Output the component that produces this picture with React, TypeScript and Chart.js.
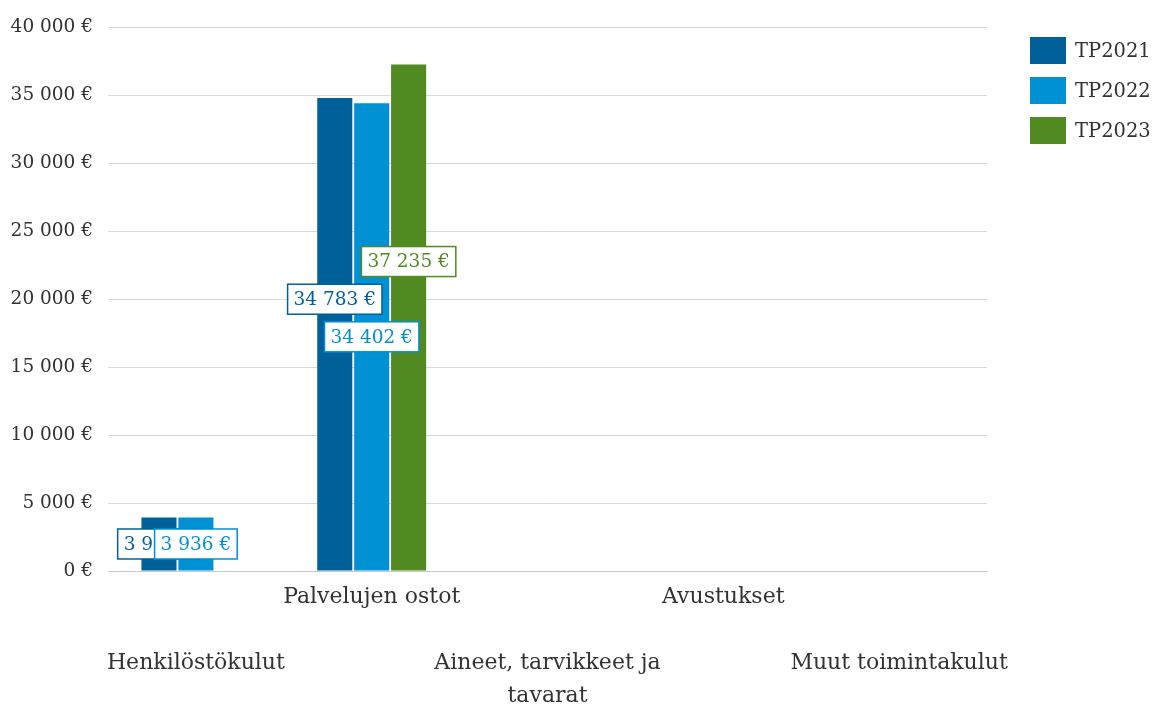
import React, { useEffect, useRef } from 'react';
import { Chart, registerables } from 'chart.js';

Chart.register(...registerables);

// ---- data ----
const categories = ['Henkilöstökulut', 'Palvelujen ostot', 'Aineet, tarvikkeet ja|tavarat', 'Avustukset', 'Muut toimintakulut'];
const seriesNames = ['TP2021', 'TP2022', 'TP2023'];
const tp2021 = [3936, 34783, 0, 0, 0];
const tp2022 = [3936, 34402, 0, 0, 0];
const tp2023 = [0, 37235, 0, 0, 0];
const yMin = 0;
const yMax = 40000;
const yStep = 5000;

// ---- style ----
const FONT = '"DejaVu Serif", "Liberation Serif", serif';
const COLORS = ['#00609a', '#0091d5', '#528a22'];
const TEXT = '#333333';

const fmt = (v: number) =>
  Math.round(v).toString().replace(/\B(?=(\d{3})+(?!\d))/g, ' ') + ' €';

const valueLabels = {
  id: 'valueLabels',
  afterDatasetsDraw(chart: any, _args: any, opts: any) {
    const ctx = chart.ctx;
    ctx.save();
    ctx.font = `${opts.size}px ${FONT}`;
    ctx.textAlign = 'center';
    ctx.textBaseline = 'middle';
    chart.data.datasets.forEach((ds: any, di: number) => {
      const meta = chart.getDatasetMeta(di);
      meta.data.forEach((el: any, i: number) => {
        const v = ds.data[i];
        if (!v) return;
        const text = fmt(v);
        const shift = (opts.shifts[i] && opts.shifts[i][di]) || 0;
        const cx = el.x;
        const cy = (el.y + el.base) / 2 + shift;
        const w = ctx.measureText(text).width + opts.padX * 2;
        const h = opts.h;
        ctx.fillStyle = '#ffffff';
        ctx.fillRect(cx - w / 2, cy - h / 2, w, h);
        ctx.strokeStyle = ds.backgroundColor;
        ctx.lineWidth = 1.5;
        ctx.strokeRect(cx - w / 2, cy - h / 2, w, h);
        ctx.fillStyle = ds.backgroundColor;
        ctx.fillText(text, cx, cy + 1);
      });
    });
    ctx.restore();
  },
};

const sideLegend = {
  id: 'sideLegend',
  afterDraw(chart: any, _args: any, opts: any) {
    const ctx = chart.ctx;
    ctx.save();
    ctx.font = `${opts.size}px ${FONT}`;
    ctx.textAlign = 'left';
    ctx.textBaseline = 'middle';
    chart.data.datasets.forEach((ds: any, i: number) => {
      const x = opts.x;
      const y = opts.y + i * opts.step;
      ctx.fillStyle = ds.backgroundColor;
      ctx.fillRect(x, y, opts.boxW, opts.boxH);
      ctx.fillStyle = TEXT;
      ctx.fillText(ds.label, x + opts.boxW + 9, y + opts.boxH / 2 + 1);
    });
    ctx.restore();
  },
};

export default function App() {
  const ref = useRef<HTMLCanvasElement | null>(null);

  useEffect(() => {
    document.body.style.margin = '0';
    if (!ref.current) return;
    const chart = new Chart(ref.current, {
      type: 'bar',
      data: {
        labels: categories,
        datasets: [tp2021, tp2022, tp2023].map((d, i) => ({
          label: seriesNames[i],
          data: d,
          backgroundColor: COLORS[i],
          borderWidth: 0,
          barPercentage: 0.95,
          categoryPercentage: 0.63,
        })),
      },
      options: {
        animation: false,
        responsive: false,
        layout: { padding: { top: 27, right: 165, left: 0, bottom: 0 } },
        plugins: {
          legend: { display: false },
          tooltip: { enabled: false },
          valueLabels: { size: 18.5, padX: 6, h: 30, shifts: { 1: [-35, 0, -56] } },
          sideLegend: { x: 1030, y: 37, step: 40, boxW: 36, boxH: 27, size: 19.5 },
        } as any,
        scales: {
          x: {
            grid: { display: false, drawTicks: false },
            border: { display: true, color: '#c8c8c8' },
            afterFit: (s: any) => { s.height = 134; },
            ticks: {
              autoSkip: false,
              maxRotation: 0,
              minRotation: 0,
              padding: 10,
              color: TEXT,
              font: { family: FONT, size: 22, lineHeight: 33 / 22 },
              callback: (_v: any, i: number) => {
                const lines = categories[i].split('|');
                return i % 2 === 0 ? ['', '', ...lines] : lines;
              },
            },
          },
          y: {
            min: yMin,
            max: yMax,
            grid: { color: '#d9d9d9', drawTicks: false },
            border: { display: false },
            afterFit: (s: any) => { s.width = 108; },
            ticks: {
              stepSize: yStep,
              padding: 15,
              color: TEXT,
              font: { family: FONT, size: 18.5 },
              callback: (v: any) => fmt(Number(v)),
            },
          },
        },
      },
      plugins: [valueLabels, sideLegend],
    });
    return () => chart.destroy();
  }, []);

  return (
    <div style={{ width: 1152, height: 705 }}>
      <canvas ref={ref} width={1152} height={705} />
    </div>
  );
}
